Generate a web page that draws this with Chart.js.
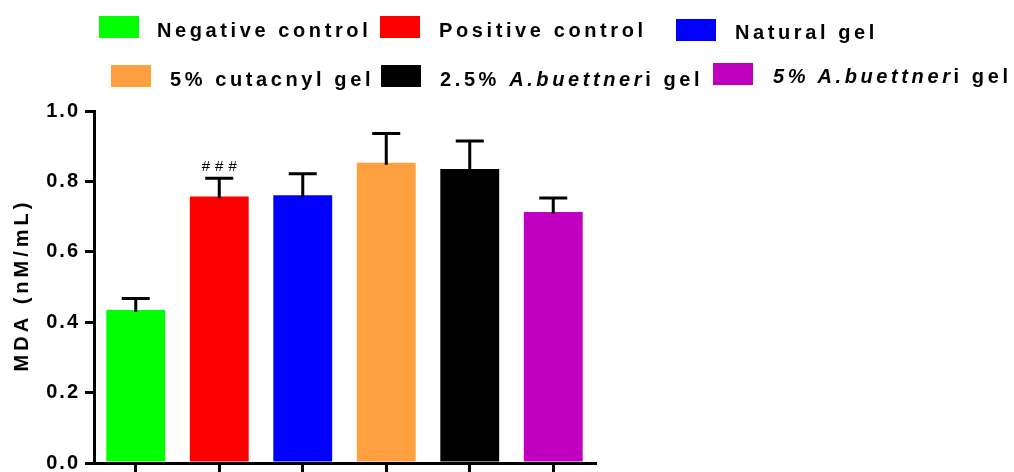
<!DOCTYPE html>
<html>
<head>
<meta charset="utf-8">
<script src="https://cdn.jsdelivr.net/npm/chart.js@4"></script>
<style>
  html, body { margin: 0; padding: 0; background: #fff; }
  #wrap { position: relative; width: 1014px; height: 472px; overflow: hidden; }
  canvas { position: absolute; left: 0; top: 0; }
  .key { position: absolute; width: 40px; height: 22px; }
  .lbl { position: absolute; font: bold 20px "Liberation Sans", Arial, sans-serif; letter-spacing: 3.6px;
         line-height: 20px; white-space: nowrap; color: #000; }
</style>
</head>
<body>
<div id="wrap">
  <canvas id="chart" width="1014" height="472"></canvas>
  <div id="legend"></div>
</div>
<script>
const groups = ['Negative control', 'Positive control', 'Natural gel', '5% cutacnyl gel', '2.5% A.buettneri gel', '5% A.buettneri gel'];
const italicPart = ['', '', '', '', 'A.buettner', '5% A.buettner'];
const mdaMean = [0.435, 0.757, 0.761, 0.853, 0.835, 0.713];
const mdaErr = [0.032, 0.052, 0.061, 0.083, 0.080, 0.040];
const sigMarks = ['', '###', '', '', '', ''];
const yTicks = [0, 0.2, 0.4, 0.6, 0.8, 1.0];
const barColors = ['#00ff00', '#ff0000', '#0000ff', '#ffa040', '#000000', '#c000c0'];

const FONT = '"Liberation Sans", Arial, sans-serif';

// legend: two hand-placed rows like the original figure
const legendPos = [
  { bx: 99, by: 16, tx: 157, ty: 20 },
  { bx: 380, by: 16, tx: 439, ty: 20 },
  { bx: 676, by: 19, tx: 735, ty: 22 },
  { bx: 111, by: 65, tx: 170, ty: 69 },
  { bx: 381, by: 65, tx: 440, ty: 69 },
  { bx: 713, by: 63, tx: 773, ty: 66 }
];
const legend = document.getElementById('legend');
groups.forEach((g, i) => {
  const p = legendPos[i];
  const box = document.createElement('div');
  box.className = 'key';
  box.style.left = p.bx + 'px';
  box.style.top = p.by + 'px';
  box.style.background = barColors[i];
  legend.appendChild(box);

  const lbl = document.createElement('div');
  lbl.className = 'lbl';
  lbl.style.left = p.tx + 'px';
  lbl.style.top = p.ty + 'px';
  const it = italicPart[i];
  const k = it ? g.indexOf(it) : -1;
  if (k >= 0) {
    lbl.appendChild(document.createTextNode(g.slice(0, k)));
    const em = document.createElement('i');
    em.textContent = it;
    lbl.appendChild(em);
    lbl.appendChild(document.createTextNode(g.slice(k + it.length)));
  } else {
    lbl.textContent = g;
  }
  legend.appendChild(lbl);
});

const errorBars = {
  id: 'errorBars',
  beforeDraw(chart) {
    chart.ctx.letterSpacing = '2px';
  },
  afterDatasetsDraw(chart) {
    const { ctx, scales: { y } } = chart;
    const meta = chart.getDatasetMeta(0);
    ctx.save();
    ctx.strokeStyle = '#000';
    ctx.lineWidth = 3;
    meta.data.forEach((bar, i) => {
      const yBase = y.getPixelForValue(mdaMean[i]);
      const yTop = y.getPixelForValue(mdaMean[i] + mdaErr[i]);
      ctx.beginPath();
      ctx.moveTo(bar.x, yBase + 2);
      ctx.lineTo(bar.x, yTop);
      ctx.moveTo(bar.x - 14, yTop);
      ctx.lineTo(bar.x + 14, yTop);
      ctx.stroke();
      if (sigMarks[i]) {
        ctx.letterSpacing = '5px';
        ctx.fillStyle = '#000';
        ctx.font = '15px ' + FONT;
        ctx.textAlign = 'center';
        ctx.textBaseline = 'alphabetic';
        ctx.fillText(sigMarks[i], bar.x + 2.5, yTop - 7.5);
      }
    });
    ctx.restore();
  },
  afterDraw(chart) {
    const { ctx, chartArea } = chart;
    ctx.save();
    ctx.letterSpacing = '4px';
    ctx.translate(22, (chartArea.top + chartArea.bottom) / 2);
    ctx.rotate(-Math.PI / 2);
    ctx.fillStyle = '#000';
    ctx.font = 'bold 20px ' + FONT;
    ctx.textAlign = 'center';
    ctx.textBaseline = 'middle';
    ctx.fillText('MDA (nM/mL)', 2, 0);
    ctx.restore();
  }
};

const ctx = document.getElementById('chart').getContext('2d');
new Chart(ctx, {
  type: 'bar',
  data: {
    labels: groups,
    datasets: [{
      data: mdaMean,
      backgroundColor: barColors,
      borderWidth: 0,
      barPercentage: 0.705,
      categoryPercentage: 1
    }]
  },
  options: {
    responsive: false,
    animation: false,
    layout: { padding: { top: 111, right: 419, bottom: 0, left: 0 } },
    plugins: { legend: { display: false }, tooltip: { enabled: false } },
    scales: {
      x: {
        grid: { offset: false, drawOnChartArea: false, color: '#000', lineWidth: 3, tickLength: 10 },
        border: { color: '#000', width: 3 },
        ticks: { display: false },
        afterFit: s => { s.height = 9; s.paddingLeft = 0; s.paddingRight = 0; }
      },
      y: {
        min: 0,
        max: 1,
        afterBuildTicks: s => { s.ticks = yTicks.map(v => ({ value: v })); },
        grid: { drawOnChartArea: false, color: '#000', lineWidth: 3, tickLength: 9 },
        border: { color: '#000', width: 3 },
        ticks: {
          color: '#000',
          padding: 5,
          font: { family: FONT, size: 20, weight: 'bold' },
          callback: v => Number(v).toFixed(1)
        },
        afterFit: s => { s.width = 94; s.paddingTop = 0; s.paddingBottom = 0; }
      }
    }
  },
  plugins: [errorBars]
});
</script>
</body>
</html>
